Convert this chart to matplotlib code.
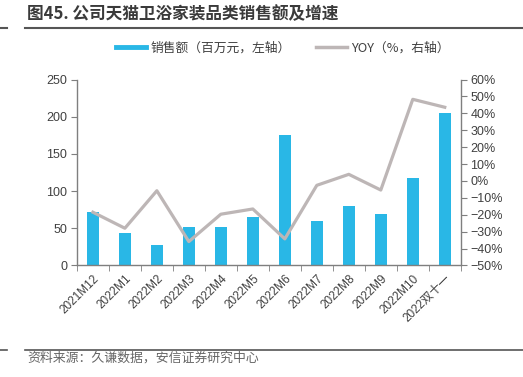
import matplotlib
matplotlib.use('Agg')
import matplotlib.pyplot as plt
from matplotlib.lines import Line2D
import numpy as np

plt.rcParams['font.family'] = ['Liberation Sans', 'Noto Sans CJK SC', 'DejaVu Sans']

# data
cats = ['2021M12', '2022M1', '2022M2', '2022M3', '2022M4', '2022M5',
        '2022M6', '2022M7', '2022M8', '2022M9', '2022M10', '2022双十一']
sales = [72, 44, 28, 51, 52, 65, 176, 60, 80, 69, 117, 205]
yoy = [-18.5, -28, -5.8, -35.9, -19.7, -16.6, -34.3, -2.6, 3.9, -5.4, 48.3, 43.6]

bar_c = '#29B7E6'
line_c = '#BDB6B6'
axis_c = '#7F7F7F'
txt_c = '#404040'
cjk = ['Noto Sans CJK SC', 'DejaVu Sans']

fig = plt.figure(figsize=(5.23, 3.77), dpi=100)
ax = fig.add_axes([0.147, 0.296, 0.734, 0.493])
x = np.arange(len(cats))
ax.bar(x, sales, width=0.38, color=bar_c, zorder=2)
ax.set_xlim(-0.5, len(cats) - 0.5)
ax.set_ylim(0, 250)
ax.set_yticks(np.arange(0, 251, 50))

ax2 = ax.twinx()
ax2.plot(x, yoy, color=line_c, linewidth=2.3, zorder=3)
ax2.set_ylim(-50, 60)
ax2.set_yticks(np.arange(-50, 61, 10))
ax2.set_yticklabels([('−' if v < 0 else '') + f'{abs(v)}%' for v in range(-50, 61, 10)])

for a in (ax, ax2):
    for s in a.spines.values():
        s.set_visible(False)
ax.spines['left'].set_visible(True)
ax.spines['bottom'].set_visible(True)
ax2.spines['right'].set_visible(True)
for s in (ax.spines['left'], ax.spines['bottom'], ax2.spines['right']):
    s.set_color(axis_c)
    s.set_linewidth(1)

ax.tick_params(axis='y', colors=axis_c, labelcolor=txt_c, labelsize=9, length=4, pad=3)
ax2.tick_params(axis='y', colors=axis_c, labelcolor=txt_c, labelsize=9, length=4, pad=3)

ax.set_xticks(x)
ax.set_xticklabels(cats, rotation=45, ha='right', rotation_mode='anchor', fontsize=8.5, color=txt_c)
ax.tick_params(axis='x', which='major', length=0, pad=5)
ax.set_xticks(np.arange(-0.5, len(cats), 1), minor=True)
ax.tick_params(axis='x', which='minor', length=4, color=axis_c)

# title and rules
fig.text(0.052, 0.962, '图45. 公司天猫卫浴家装品类销售额及增速', fontsize=12,
         fontweight='bold', color='#3a3a3a', va='center', family=cjk)
fig.add_artist(Line2D([0.048, 1.0], [0.925, 0.925], color='#555555', lw=1.5))
fig.add_artist(Line2D([0.0, 0.014], [0.925, 0.925], color='#555555', lw=1.5))
fig.add_artist(Line2D([0.048, 1.0], [0.072, 0.072], color='#555555', lw=1.2))
fig.add_artist(Line2D([0.0, 0.014], [0.072, 0.072], color='#555555', lw=1.2))
fig.text(0.052, 0.05, '资料来源：久谦数据，安信证券研究中心', fontsize=9.3, color='#666666',
         va='center', family=cjk)

# legend
handles = [Line2D([], [], color=bar_c, lw=3.5), Line2D([], [], color=line_c, lw=2.5)]
fig.legend(handles, ['销售额（百万元，左轴）', 'YOY（%，右轴）'], loc='center',
           bbox_to_anchor=(0.54, 0.873), ncol=2, frameon=False,
           handlelength=2.4, handletextpad=0.3, columnspacing=2.0,
           labelcolor=txt_c, prop={'family': cjk, 'size': 9.2})

fig.savefig('out.png', dpi=100)
